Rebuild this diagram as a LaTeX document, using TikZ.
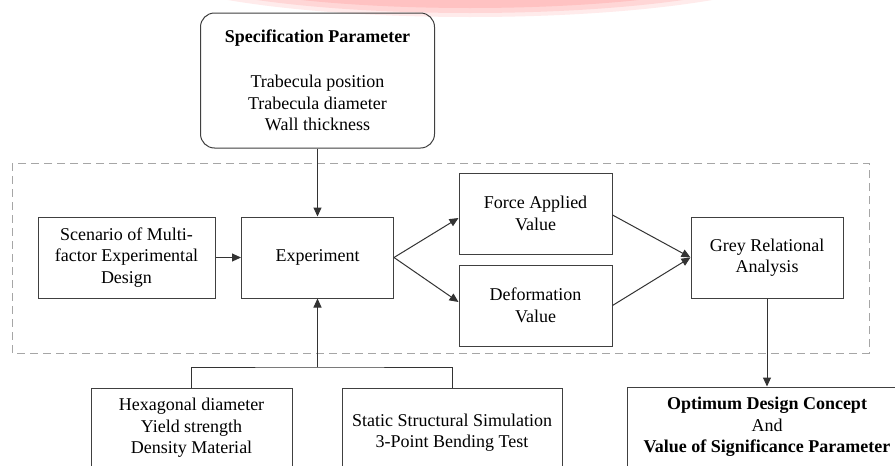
\documentclass[tikz,border=0pt]{standalone}
\usepackage{fontspec}
\setmainfont{Liberation Serif}
\usetikzlibrary{arrows.meta}

\begin{document}
\begin{tikzpicture}[x=1pt, y=-1pt,
    every node/.style={font=\fontsize{18}{21.6}\selectfont, align=center},
    blk/.style={draw=black!75, line width=1pt, inner sep=0pt},
    flow/.style={draw=black!80, line width=1pt, -{Triangle[length=9pt,width=8pt]}},
    lnk/.style={draw=black!80, line width=1pt}]

\def\W{895}
\def\H{466}
\def\yM{257.5}

\clip (0,0) rectangle (\W,\H);
\fill[white] (0,0) rectangle (\W,\H);

\fill[red!8]  (470,-40) ellipse [x radius=340, y radius=57];
\fill[red!16] (470,-40) ellipse [x radius=325, y radius=53];
\fill[red!24] (470,-40) ellipse [x radius=305, y radius=48];

\draw[gray!70, line width=1pt, dash pattern=on 8pt off 5pt] (12,163) rectangle (869,353);

\node[blk, rounded corners=14pt, minimum width=234pt, minimum height=135pt] (spec) at (317.5,80.5)
    {\textbf{Specification Parameter}\\[23pt]Trabecula position\\Trabecula diameter\\Wall thickness};

\node[blk, minimum width=177pt, minimum height=81pt] (scen) at (126.5,\yM) {Scenario of Multi-\\factor Experimental\\Design};
\node[blk, minimum width=152pt, minimum height=81pt] (exp) at (317.5,\yM) {Experiment};
\node[blk, minimum width=153pt, minimum height=81pt] (force) at (535.5,213.5) {Force Applied\\Value};
\node[blk, minimum width=153pt, minimum height=81pt] (deform) at (535.5,305.5) {Deformation\\Value};
\node[blk, minimum width=152pt, minimum height=81pt] (grey) at (767,\yM) {Grey Relational\\Analysis};

\node[blk, minimum width=201pt, minimum height=80pt] (hex) at (191.5,428) {Hexagonal diameter\\Yield strength\\Density Material};
\node[blk, minimum width=220pt, minimum height=80pt] (stat) at (452,428) {\mbox{}\\Static Structural Simulation\\3-Point Bending Test};
\node[blk, minimum width=280pt, minimum height=80pt] (opt) at (767,427)
    {\textbf{Optimum Design Concept}\\And\\\textbf{Value of Significance Parameter}};

\coordinate (merge) at (317.5,367);

\draw[flow] (spec) -- (exp);
\draw[flow] (scen) -- (exp);
\draw[flow] (exp.east) -- ([yshift=-4.5pt]force.west);
\draw[flow] (exp.east) -- ([yshift=3.5pt]deform.west);
\draw[flow] ([yshift=-1.5pt]force.east) -- (grey.west);
\draw[flow] (deform.east) -- (grey.west);
\draw[flow] (grey) -- (opt);
\draw[lnk] (hex.north) |- (merge) -| (stat.north);
\draw[flow] (merge) -- (exp.south);

\end{tikzpicture}
\end{document}
